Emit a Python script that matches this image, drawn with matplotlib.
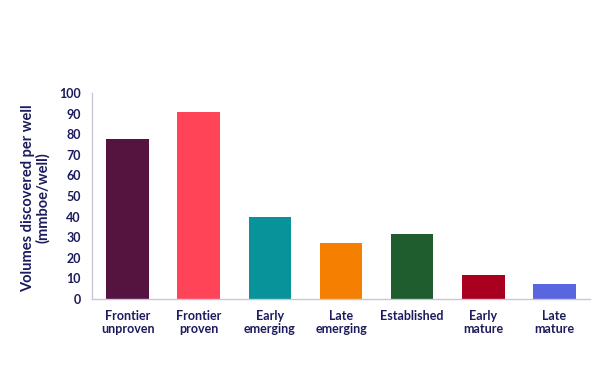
import matplotlib
matplotlib.use("Agg")
import matplotlib.pyplot as plt

categories = ["Frontier\nunproven", "Frontier\nproven", "Early\nemerging", "Late\nemerging",
              "Established", "Early\nmature", "Late\nmature"]
volumes = [77.5, 91.0, 39.8, 27.3, 31.7, 11.8, 7.5]
colors = ["#54143F", "#FF4458", "#08929A", "#F57F00", "#1F5C2E", "#A8001E", "#5A66E0"]

text_color = "#1B1B5E"
plt.rcParams["font.family"] = ["Lato", "DejaVu Sans"]

fig = plt.figure(figsize=(6, 3.8), dpi=100)
ax = fig.add_axes([92 / 600, 81 / 380, 498 / 600, 206 / 380])

x = range(len(categories))
ax.bar(x, volumes, width=0.6, color=colors)

ax.set_ylim(0, 100)
ax.set_yticks(range(0, 101, 10))
ax.set_xlim(-0.5, 6.5)
ax.set_xticks(list(x))
ax.set_xticklabels(categories, fontsize=9, fontweight="bold", color=text_color, linespacing=1.1)
ax.tick_params(axis="y", labelsize=9, colors=text_color, length=0, pad=8)
ax.tick_params(axis="x", length=0, pad=8)
for lbl in ax.get_yticklabels():
    lbl.set_fontweight("bold")

ax.set_ylabel("Volumes discovered per well\n(mmboe/well)", fontsize=10.5, fontweight="bold",
              color=text_color, linespacing=1.05)
ax.yaxis.set_label_coords(-0.085, 0.49)

for side in ["top", "right"]:
    ax.spines[side].set_visible(False)
for side in ["left", "bottom"]:
    ax.spines[side].set_color("#C9C5DD")
    ax.spines[side].set_linewidth(1)

fig.savefig("out.png", dpi=100)
